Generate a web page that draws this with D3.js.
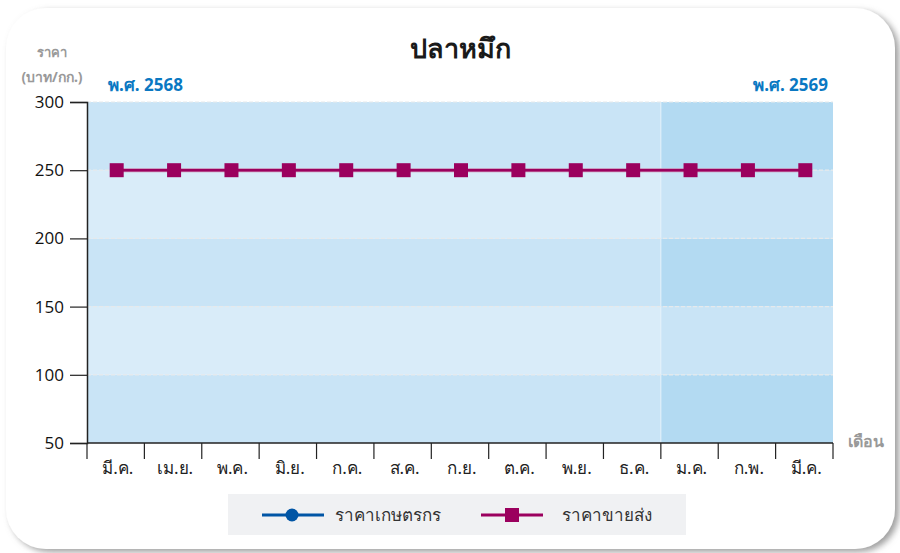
<!DOCTYPE html>
<html>
<head>
<meta charset="utf-8">
<script src="https://cdn.jsdelivr.net/npm/d3@7"></script>
<style>
  body { margin: 0; background: #fff; }
  svg { display: block; font-family: "Noto Sans", "DejaVu Sans", sans-serif; }
</style>
</head>
<body>
<svg id="chart" width="900" height="553"></svg>
<script>
// months (Mar 2568 .. Mar 2569)
var months = ['มี.ค.', 'เม.ย.', 'พ.ค.', 'มิ.ย.', 'ก.ค.', 'ส.ค.', 'ก.ย.', 'ต.ค.', 'พ.ย.', 'ธ.ค.', 'ม.ค.', 'ก.พ.', 'มี.ค.'];
var farmPrice = [null, null, null, null, null, null, null, null, null, null, null, null, null];
var wholesalePrice = [250, 250, 250, 250, 250, 250, 250, 250, 250, 250, 250, 250, 250];
var yTicks = [50, 100, 150, 200, 250, 300];
var yearLabels = ['พ.ศ. 2568', 'พ.ศ. 2569'];
var seriesNames = ['ราคาเกษตรกร', 'ราคาขายส่ง'];
var newYearIndex = 10; // ม.ค. starts 2569

var svg = d3.select('#chart');
var margin = { left: 87, right: 67, top: 102, bottom: 110 };
var W = 900, H = 553;

// card with soft shadow
var defs = svg.append('defs');
var f = defs.append('filter').attr('id', 'sh').attr('x', '-5%').attr('y', '-5%')
    .attr('width', '110%').attr('height', '110%');
f.append('feDropShadow').attr('dx', 4).attr('dy', 3).attr('stdDeviation', 3)
    .attr('flood-color', '#777').attr('flood-opacity', 0.7);
svg.append('rect').attr('x', 6).attr('y', 8).attr('width', 889).attr('height', 541)
    .attr('rx', 40).attr('fill', '#fff').attr('filter', 'url(#sh)');

var x = d3.scaleBand().domain(d3.range(months.length))
    .range([margin.left, W - margin.right]);
var y = d3.scaleLinear().domain([50, 300]).range([H - margin.bottom, margin.top]);

// stripes
var bands = d3.range(yTicks.length - 1).map(function (i) {
    return { lo: yTicks[i], hi: yTicks[i + 1], dark: i % 2 === 0 };
});
var splitX = x(newYearIndex);
var g = svg.append('g');
g.selectAll('rect.a').data(bands).enter().append('rect')
    .attr('x', x.range()[0]).attr('width', splitX - x.range()[0])
    .attr('y', function (d) { return y(d.hi); })
    .attr('height', function (d) { return y(d.lo) - y(d.hi); })
    .attr('fill', function (d) { return d.dark ? '#c9e4f6' : '#d9ecf9'; });
g.selectAll('rect.b').data(bands).enter().append('rect')
    .attr('x', splitX).attr('width', x.range()[1] - splitX)
    .attr('y', function (d) { return y(d.hi); })
    .attr('height', function (d) { return y(d.lo) - y(d.hi); })
    .attr('fill', function (d) { return d.dark ? '#b3daf2' : '#c9e4f6'; });
g.append('line').attr('x1', splitX).attr('x2', splitX)
    .attr('y1', y(300)).attr('y2', y(50)).attr('stroke', '#e4f1fb').attr('stroke-width', 1);

// grid
g.selectAll('line.grid').data(yTicks.slice(1)).enter().append('line')
    .attr('x1', x.range()[0]).attr('x2', x.range()[1])
    .attr('y1', function (d) { return y(d); }).attr('y2', function (d) { return y(d); })
    .attr('stroke', '#e6e9ec').attr('stroke-width', 1.2).attr('stroke-dasharray', '4,2');

// axes
var yAxis = svg.append('g').attr('transform', 'translate(' + margin.left + ',0)')
    .call(d3.axisLeft(y).tickValues(yTicks).tickSize(17).tickPadding(6));
yAxis.select('.domain').attr('stroke', '#222').attr('stroke-width', 1.5);
yAxis.selectAll('.tick line').attr('stroke', '#222').attr('stroke-width', 1.2);
yAxis.selectAll('.tick text').attr('font-size', 17).attr('fill', '#111')
    .attr('font-family', '"Open Sans", "Noto Sans", sans-serif');

var step = x.step();
var xAxis = svg.append('g').attr('transform', 'translate(0,' + y(50) + ')');
xAxis.append('line').attr('x1', x.range()[0]).attr('x2', x.range()[1])
    .attr('stroke', '#222').attr('stroke-width', 1.5);
xAxis.selectAll('line.tk').data(d3.range(months.length + 1)).enter().append('line')
    .attr('x1', function (i) { return x.range()[0] + i * step; })
    .attr('x2', function (i) { return x.range()[0] + i * step; })
    .attr('y1', 0).attr('y2', 16).attr('stroke', '#222').attr('stroke-width', 1.2);
xAxis.selectAll('text').data(months).enter().append('text')
    .attr('x', function (d, i) { return x(i) + step / 2 + 2; })
    .attr('y', 31).attr('text-anchor', 'middle')
    .attr('font-size', 17).attr('fill', '#222')
    .text(function (d) { return d; });

// title and labels
svg.append('text').attr('x', 460).attr('y', 58).attr('text-anchor', 'middle')
    .attr('font-size', 27).attr('font-weight', 900).attr('fill', '#1a1a1a').text('ปลาหมึก');
svg.append('text').attr('x', 52).attr('y', 57).attr('text-anchor', 'middle')
    .attr('font-size', 13).attr('font-weight', 'bold').attr('fill', '#999').text('ราคา');
svg.append('text').attr('x', 52).attr('y', 82).attr('text-anchor', 'middle')
    .attr('font-size', 14).attr('font-weight', 'bold').attr('fill', '#999').text('(บาท/กก.)');
svg.append('text').attr('x', 866).attr('y', 447).attr('text-anchor', 'middle')
    .attr('font-size', 16).attr('font-weight', 'bold').attr('fill', '#999').text('เดือน');
svg.append('text').attr('x', 108).attr('y', 91)
    .attr('font-size', 17).attr('font-weight', 'bold').attr('fill', '#0a78c2').text(yearLabels[0]);
svg.append('text').attr('x', 828).attr('y', 91).attr('text-anchor', 'end')
    .attr('font-size', 17).attr('font-weight', 'bold').attr('fill', '#0a78c2').text(yearLabels[1]);

// series
var cx = function (d, i) { return x(i) + step / 2 + 1; };
var line = d3.line().defined(function (d) { return d != null; })
    .x(cx).y(function (d) { return y(d); });

svg.append('path').datum(farmPrice).attr('d', line)
    .attr('fill', 'none').attr('stroke', '#0055a5').attr('stroke-width', 3);
svg.selectAll('circle.farm').data(farmPrice.filter(function (d) { return d != null; }))
    .enter().append('circle').attr('r', 6).attr('fill', '#0055a5');

svg.append('path').datum(wholesalePrice).attr('d', line)
    .attr('fill', 'none').attr('stroke', '#c98ab2').attr('stroke-width', 4);
svg.append('path').datum(wholesalePrice).attr('d', line)
    .attr('fill', 'none').attr('stroke', '#9b005e').attr('stroke-width', 2.5);
svg.selectAll('rect.ws').data(wholesalePrice).enter().append('rect')
    .attr('x', function (d, i) { return cx(d, i) - 7; })
    .attr('y', function (d) { return y(d) - 7; })
    .attr('width', 14).attr('height', 14).attr('fill', '#9b005e');

// legend
var lg = svg.append('g');
lg.append('rect').attr('x', 228).attr('y', 494).attr('width', 458).attr('height', 41).attr('fill', '#f0f1f3');
lg.append('line').attr('x1', 262).attr('x2', 324).attr('y1', 515).attr('y2', 515)
    .attr('stroke', '#0055a5').attr('stroke-width', 3);
lg.append('circle').attr('cx', 292).attr('cy', 515).attr('r', 6.5).attr('fill', '#0055a5');
lg.append('text').attr('x', 335).attr('y', 521).attr('font-size', 17).attr('fill', '#333').text(seriesNames[0]);
lg.append('line').attr('x1', 481).attr('x2', 543).attr('y1', 515).attr('y2', 515)
    .attr('stroke', '#9b005e').attr('stroke-width', 3);
lg.append('rect').attr('x', 505).attr('y', 508).attr('width', 14).attr('height', 14).attr('fill', '#9b005e');
lg.append('text').attr('x', 562).attr('y', 521).attr('font-size', 17).attr('fill', '#333').text(seriesNames[1]);
</script>
</body>
</html>
